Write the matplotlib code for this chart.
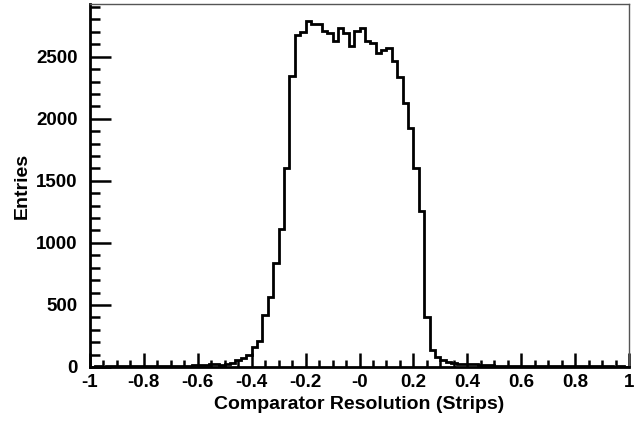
import numpy as np
import matplotlib
matplotlib.use("Agg")
import matplotlib.pyplot as plt
from matplotlib.ticker import MultipleLocator, FixedLocator

# bin edges: 100 bins of 0.02 from -1 to 1
edges = np.linspace(-1.0, 1.0, 101)

left_tail = [3, 4, 3, 5, 4, 4, 5, 4, 6, 5, 5, 6, 7, 6, 7,
             8, 9, 10, 12, 14, 17, 20, 26, 24, 18, 25]
core = [35, 56, 75, 97, 164, 212, 419, 562, 841, 1110,
        1602, 2341, 2677, 2699, 2785, 2766, 2763, 2704, 2691, 2629,
        2731, 2691, 2583, 2704, 2731, 2629, 2610, 2530, 2551, 2570,
        2462, 2336, 2131, 1925, 1602, 1258, 406]
right_tail = [137, 83, 56, 38, 30, 28, 27, 26, 24, 20, 16, 14, 12, 11, 10,
              9, 9, 8, 10, 8, 7, 9, 7, 6, 6, 5, 6, 5, 4, 5, 4, 4, 5, 4, 3, 4, 3]
counts = np.array(left_tail + core + right_tail, dtype=float)

xticks = [-1, -0.8, -0.6, -0.4, -0.2, 0, 0.2, 0.4, 0.6, 0.8, 1]
xticklabels = ["-1", "-0.8", "-0.6", "-0.4", "-0.2", "-0", "0.2", "0.4", "0.6", "0.8", "1"]
yticks = [0, 500, 1000, 1500, 2000, 2500]

plt.rcParams["font.family"] = ["Liberation Sans", "DejaVu Sans"]

fig = plt.figure(figsize=(6.42, 4.23), dpi=100)
fig.patch.set_facecolor("white")
ax = fig.add_axes([0.140, 0.1324, 0.840, 0.858])

centers = 0.5 * (edges[:-1] + edges[1:])
ax.hist(centers, bins=edges, weights=counts, histtype="step",
        color="black", linewidth=2.0)

ax.set_xlim(-1, 1)
ax.set_ylim(0, 1.05 * counts.max())

ax.xaxis.set_major_locator(FixedLocator(xticks))
ax.set_xticklabels(xticklabels)
ax.xaxis.set_minor_locator(MultipleLocator(0.05))
ax.yaxis.set_major_locator(FixedLocator(yticks))
ax.yaxis.set_minor_locator(MultipleLocator(100))

ax.tick_params(axis="both", which="both", direction="in",
               top=False, right=False, width=1.8, color="black")
ax.tick_params(axis="x", which="major", length=10, pad=5)
ax.tick_params(axis="x", which="minor", length=5)
ax.tick_params(axis="y", which="major", length=15, pad=9)
ax.tick_params(axis="y", which="minor", length=7)

for lab in ax.get_xticklabels() + ax.get_yticklabels():
    lab.set_fontsize(13.5)
    lab.set_fontweight("bold")

for side in ["left", "bottom"]:
    ax.spines[side].set_linewidth(2.0)
for side in ["top", "right"]:
    ax.spines[side].set_linewidth(1.0)
    ax.spines[side].set_color("#555555")

ax.set_xlabel("Comparator Resolution (Strips)", fontsize=14, fontweight="bold", labelpad=4)
ax.set_ylabel("Entries", fontsize=14, fontweight="bold", labelpad=4)

fig.savefig("out.png", dpi=100, facecolor="white")
